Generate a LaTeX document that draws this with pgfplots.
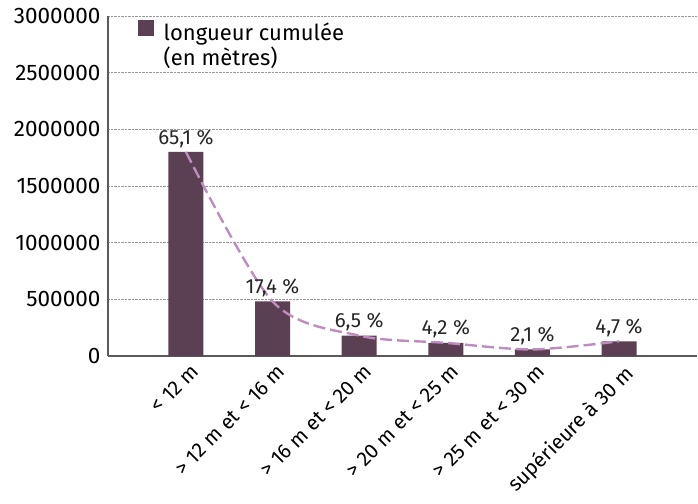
\documentclass[border=0pt]{standalone}
\usepackage{fontspec}
\setmainfont{Fira Sans}
\usepackage{pgfplots}
\pgfplotsset{compat=1.18}
\definecolor{barcol}{RGB}{90,64,82}
\definecolor{linecol}{RGB}{190,140,190}
\definecolor{axcol}{RGB}{90,90,90}
\begin{document}
\begin{tikzpicture}
\begin{axis}[
  at={(0,0)}, anchor=south west,
  scale only axis, width=589pt, height=340pt,
  xmin=-0.9, xmax=5.9, ymin=0, ymax=3000000,
  ytick={0,500000,...,3000000},
  scaled y ticks=false,
  /pgf/number format/assume math mode=true,
  yticklabel style={/pgf/number format/fixed,/pgf/number format/1000 sep={}, font=\fontsize{22.5}{26}\selectfont, xshift=-4pt},
  xtick={0,1,2,3,4,5},
  xticklabels={{< 12 m},{> 12 m et < 16 m},{> 16 m et < 20 m},{> 20 m et < 25 m},{> 25 m et < 30 m},{supérieure à 30 m}},
  xticklabel style={xshift=4pt, yshift=-7pt, rotate=45, anchor=north east, font=\fontsize{20.5}{24}\selectfont, inner sep=0pt},
  major tick length=0pt,
  axis x line*=bottom, axis y line*=left,
  axis line style={axcol, line width=1.5pt, -},
  ymajorgrids, grid style={densely dotted, gray!80, line width=0.6pt},
  separate axis lines,
  y axis line style={axcol, line width=1.2pt},
  legend style={at={(0.045,0.995)}, anchor=north west, draw=none, fill=none, font=\fontsize{22}{23}\selectfont, cells={align=left}, column sep=8pt},
  legend image code/.code={\fill[barcol] (0pt,9pt) rectangle (16pt,25pt);},
  nodes near coords style={font=\fontsize{20.5}{24}\selectfont, color=black!85, yshift=1pt},
]
\addplot[ybar, bar width=35pt, fill=barcol, draw=none,
  point meta=explicit symbolic, nodes near coords]
  coordinates {
  (0,1800000) [65,1 \%]
  (1,481000) [17,4 \%]
  (2,180000) [6,5 \%]
  (3,116000) [4,2 \%]
  (4,58000) [2,1 \%]
  (5,130000) [4,7 \%]
  };
\addlegendentry{longueur cumulée\\(en mètres)}
\addplot[linecol, line width=2.4pt, dash pattern=on 12pt off 5pt, smooth, forget plot]
  coordinates {(0,1800000) (1,481000) (2,180000) (3,116000) (4,58000) (5,130000)};
\end{axis}
\path[use as bounding box] (-108pt,-147pt) rectangle (590pt,356pt);
\end{tikzpicture}
\end{document}
